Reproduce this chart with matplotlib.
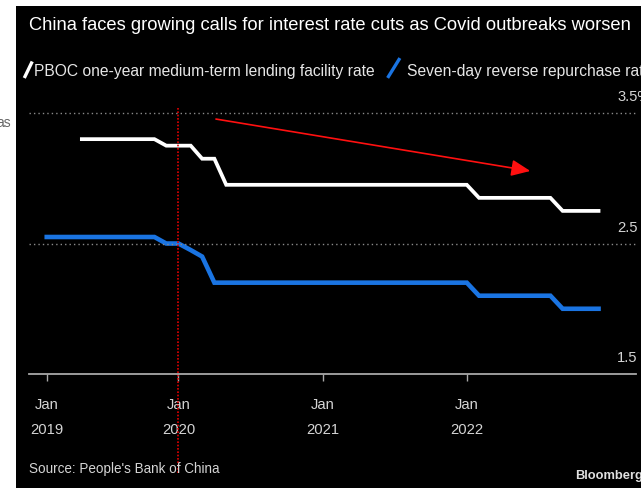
import matplotlib
matplotlib.use("Agg")
import matplotlib.pyplot as plt
from matplotlib.lines import Line2D
from matplotlib.patches import Rectangle
import pandas as pd

# monthly series, first of each month
repo_months = pd.date_range("2019-02-01", "2022-12-01", freq="MS")
repo_rate = [2.55, 2.55, 2.55, 2.55, 2.55, 2.55, 2.55, 2.55, 2.55, 2.55, 2.50,   # 2019 Feb-Dec
             2.50, 2.45, 2.40, 2.20, 2.20, 2.20, 2.20, 2.20, 2.20, 2.20, 2.20, 2.20,  # 2020
             2.20, 2.20, 2.20, 2.20, 2.20, 2.20, 2.20, 2.20, 2.20, 2.20, 2.20, 2.20,  # 2021
             2.20, 2.10, 2.10, 2.10, 2.10, 2.10, 2.10, 2.10, 2.00, 2.00, 2.00, 2.00]  # 2022

mlf_months = pd.date_range("2019-05-01", "2022-12-01", freq="MS")
mlf_rate = [3.30, 3.30, 3.30, 3.30, 3.30, 3.30, 3.30, 3.25,   # 2019 May-Dec
            3.25, 3.25, 3.15, 3.15, 2.95, 2.95, 2.95, 2.95, 2.95, 2.95, 2.95, 2.95,  # 2020
            2.95, 2.95, 2.95, 2.95, 2.95, 2.95, 2.95, 2.95, 2.95, 2.95, 2.95, 2.95,  # 2021
            2.95, 2.85, 2.85, 2.85, 2.85, 2.85, 2.85, 2.85, 2.75, 2.75, 2.75, 2.75]  # 2022

tick_dates = pd.to_datetime(["2019-02-01", "2020-01-01", "2021-01-01", "2022-01-01"])
tick_labels = ["Jan\n2019", "Jan\n2020", "Jan\n2021", "Jan\n2022"]
y_ticks = [1.5, 2.5, 3.5]
y_labels = ["1.5", "2.5", "3.5%"]

title = "China faces growing calls for interest rate cuts as Covid outbreaks worsen"
mlf_name = "PBOC one-year medium-term lending facility rate"
repo_name = "Seven-day reverse repurchase rate"
source = "Source: People's Bank of China"

W, H = 641, 488
plt.rcParams["font.family"] = ["Liberation Sans", "DejaVu Sans"]


def fx(x):
    return x / W


def fy(y):
    return 1 - y / H


fig = plt.figure(figsize=(W / 100, H / 100), dpi=100, facecolor="black")
renderer = fig.canvas.get_renderer()


def fit(txt, width_px):
    # shrink/grow a text so it spans the width seen in the reference
    w = txt.get_window_extent(renderer).width
    txt.set_fontsize(txt.get_fontsize() * width_px / w)


# white page margins around the screenshot
fig.add_artist(Rectangle((0, 0), fx(16), 1, transform=fig.transFigure,
                         facecolor="white", edgecolor="none"))
fig.add_artist(Rectangle((0, fy(6)), 1, 6 / H, transform=fig.transFigure,
                         facecolor="white", edgecolor="none"))
fig.text(fx(11), fy(127), "as", color="#666666", fontsize=10, ha="right",
         va="baseline")

ax = fig.add_axes([fx(29), fy(374), fx(636) - fx(29), (374 - 100) / H])
ax.set_facecolor("black")

ax.plot(mlf_months, mlf_rate, color="white", lw=2.7, solid_joinstyle="miter")
ax.plot(repo_months, repo_rate, color="#1a74e2", lw=3.3, solid_joinstyle="miter")

ax.set_xlim(pd.Timestamp("2018-12-18"), pd.Timestamp("2023-03-06"))
ax.set_ylim(1.5, 3.6)

for s in ["top", "right", "left"]:
    ax.spines[s].set_visible(False)
ax.spines["bottom"].set_color("#a8a8a8")
ax.spines["bottom"].set_linewidth(1.3)

ax.set_xticks(tick_dates)
ax.set_xticklabels(tick_labels, linespacing=1.95)
ax.tick_params(axis="x", colors="#a8a8a8", length=5, width=1, pad=12.5,
               labelcolor="#d4d4d4", labelsize=10.6)
ax.set_yticks([])

for v in y_ticks[1:]:
    ax.axhline(v, color="#8a8a8a", lw=1, ls=(0, (1, 2.2)))
for v, lab in zip(y_ticks, y_labels):
    ax.annotate(lab, xy=(0.9687, v), xycoords=("axes fraction", "data"),
                xytext=(0, 8.6), textcoords="offset points", ha="left",
                va="baseline", color="#d4d4d4", fontsize=10.6,
                annotation_clip=False)

# red annotations
ax.axvline(pd.Timestamp("2020-01-01"), ymin=-0.361, ymax=0.971, color="#e00000",
           lw=1.2, ls=(0, (1, 1)), clip_on=False)
ax.annotate("", xy=(pd.Timestamp("2022-06-11"), 3.056),
            xytext=(pd.Timestamp("2020-04-05"), 3.454),
            arrowprops=dict(arrowstyle="-|>,head_length=1.15,head_width=0.5",
                            color="#ff1010", lw=1.2, shrinkA=0, shrinkB=0))

# title, legend and footer
t = fig.text(fx(29), fy(30), title, color="white", fontsize=14, ha="left",
             va="baseline")
fit(t, 609)
fig.add_artist(Line2D([fx(25), fx(31.5)], [fy(76.5), fy(63)], color="white",
                      lw=2.4, transform=fig.transFigure))
leg1 = fig.text(fx(34), fy(76), mlf_name, color="#e6e6e6", fontsize=12,
                ha="left", va="baseline")
fit(leg1, 341)
fig.add_artist(Line2D([fx(388.5), fx(399)], [fy(76.5), fy(59.5)],
                      color="#1a74e2", lw=2.4, transform=fig.transFigure))
fig.text(fx(407), fy(76), repo_name, color="#e6e6e6",
         fontsize=leg1.get_fontsize(), ha="left", va="baseline")
src = fig.text(fx(29), fy(473), source, color="#d4d4d4", fontsize=12,
               ha="left", va="baseline")
fit(src, 191)
bb = fig.text(fx(575), fy(479), "Bloomberg", color="#e0e0e0", fontsize=11,
              fontweight="bold", ha="left", va="baseline")
fit(bb, 68)

fig.savefig("out.png", dpi=100, facecolor="black")
